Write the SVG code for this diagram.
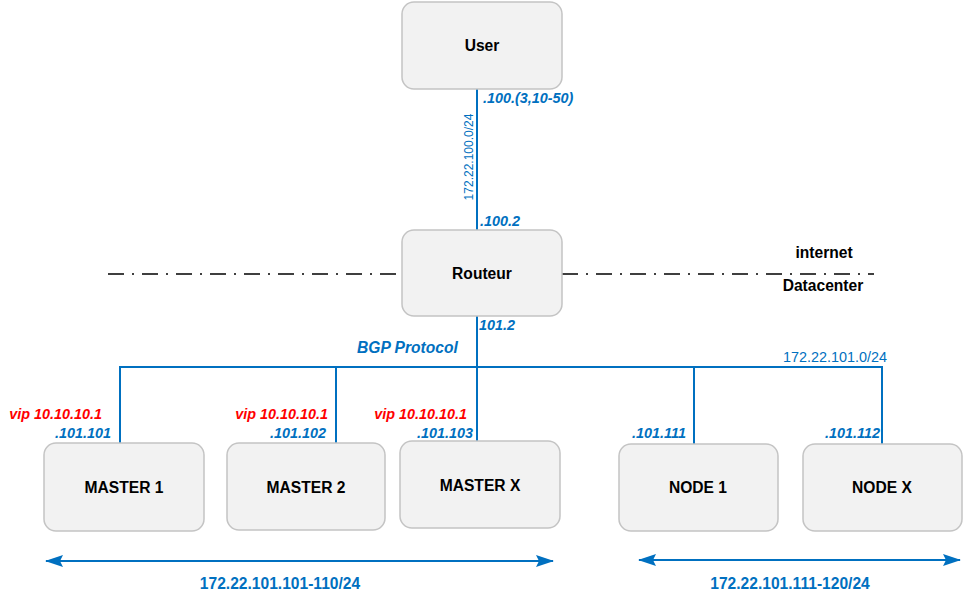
<svg xmlns="http://www.w3.org/2000/svg" width="965" height="602" viewBox="0 0 965 602">
<style>
.box{fill:#f2f2f2;stroke:#c4c4c4;stroke-width:1.5}
.nl{font-family:"Liberation Sans",Arial,sans-serif;font-weight:bold;font-size:15.6px;fill:#000;text-anchor:middle}
.lb{font-family:"Liberation Sans",Arial,sans-serif;font-weight:bold;font-style:italic;font-size:14.4px;fill:#0070C0}
.vip{font-family:"Liberation Sans",Arial,sans-serif;font-weight:bold;font-style:italic;font-size:14.4px;fill:#FF0000}
.net{font-family:"Liberation Sans",Arial,sans-serif;font-size:14.4px;fill:#0070C0}
.rng{font-family:"Liberation Sans",Arial,sans-serif;font-weight:bold;font-size:15.6px;fill:#0070C0;text-anchor:middle}
.wire{fill:none;stroke:#0070C0;stroke-width:2}
.sep{fill:none;stroke:#000;stroke-width:1.6;stroke-dasharray:16 8 2 8}
</style>
<defs>
<marker id="ah" viewBox="0 0 18 12" refX="17" refY="6" markerWidth="18" markerHeight="12" markerUnits="userSpaceOnUse" orient="auto-start-reverse">
<path d="M0,0 L18,6 L0,12 L3,6 Z" fill="#0070C0"/>
</marker>
</defs>
<g id="separator">
<line class="sep" x1="108" y1="274" x2="400" y2="274"/>
<line class="sep" x1="562" y1="274" x2="874" y2="274"/>
<text class="nl" x="824" y="258">internet</text>
<text class="nl" x="823" y="291">Datacenter</text>
</g>
<g id="connectors">
<line class="wire" x1="477" y1="89" x2="477" y2="230"/>
<line class="wire" x1="477" y1="316" x2="477" y2="441"/>
<polyline class="wire" points="120,443 120,367 882,367 882,444"/>
<line class="wire" x1="336" y1="367" x2="336" y2="443"/>
<line class="wire" x1="694" y1="367" x2="694" y2="444" stroke="#4a8fd6"/>
<line class="wire" x1="46" y1="561" x2="553" y2="561" marker-start="url(#ah)" marker-end="url(#ah)"/>
<line class="wire" x1="639" y1="560" x2="960" y2="560" marker-start="url(#ah)" marker-end="url(#ah)"/>
</g>
<g id="labels">
<text class="lb" x="483" y="103">.100.(3,10-50)</text>
<text class="lb" x="480" y="226">.100.2</text>
<text class="net" text-anchor="middle" transform="translate(473,157) rotate(-90)" style="font-size:12px">172.22.100.0/24</text>
<text class="lb" x="479" y="330">101.2</text>
<text class="lb" x="357" y="353" style="font-size:15.6px">BGP Protocol</text>
<text class="net" x="783" y="362">172.22.101.0/24</text>
<text class="vip" x="102" y="419" text-anchor="end">vip 10.10.10.1</text>
<text class="lb" x="111" y="438" text-anchor="end">.101.101</text>
<text class="vip" x="328" y="419" text-anchor="end">vip 10.10.10.1</text>
<text class="lb" x="326" y="438" text-anchor="end">.101.102</text>
<text class="vip" x="467" y="419" text-anchor="end">vip 10.10.10.1</text>
<text class="lb" x="473" y="438" text-anchor="end">.101.103</text>
<text class="lb" x="686" y="438" text-anchor="end">.101.111</text>
<text class="lb" x="880" y="438" text-anchor="end">.101.112</text>
<text class="rng" x="280" y="589">172.22.101.101-110/24</text>
<text class="rng" x="790" y="589">172.22.101.111-120/24</text>
</g>
<g id="user"><rect class="box" x="402" y="2" width="160" height="87" rx="12"/><text class="nl" x="482" y="51">User</text></g>
<g id="routeur"><rect class="box" x="402" y="230" width="160" height="86" rx="12"/><text class="nl" x="482" y="279">Routeur</text></g>
<g id="master1"><rect class="box" x="44" y="443" width="160" height="88" rx="12"/><text class="nl" x="124" y="493">MASTER 1</text></g>
<g id="master2"><rect class="box" x="227" y="443" width="158" height="87" rx="12"/><text class="nl" x="306" y="493">MASTER 2</text></g>
<g id="masterx"><rect class="box" x="400" y="441" width="160" height="87" rx="12"/><text class="nl" x="480" y="491">MASTER X</text></g>
<g id="node1"><rect class="box" x="619" y="444" width="159" height="87" rx="12"/><text class="nl" x="698" y="493">NODE 1</text></g>
<g id="nodex"><rect class="box" x="803" y="444" width="159" height="87" rx="12"/><text class="nl" x="882" y="493">NODE X</text></g>
</svg>
